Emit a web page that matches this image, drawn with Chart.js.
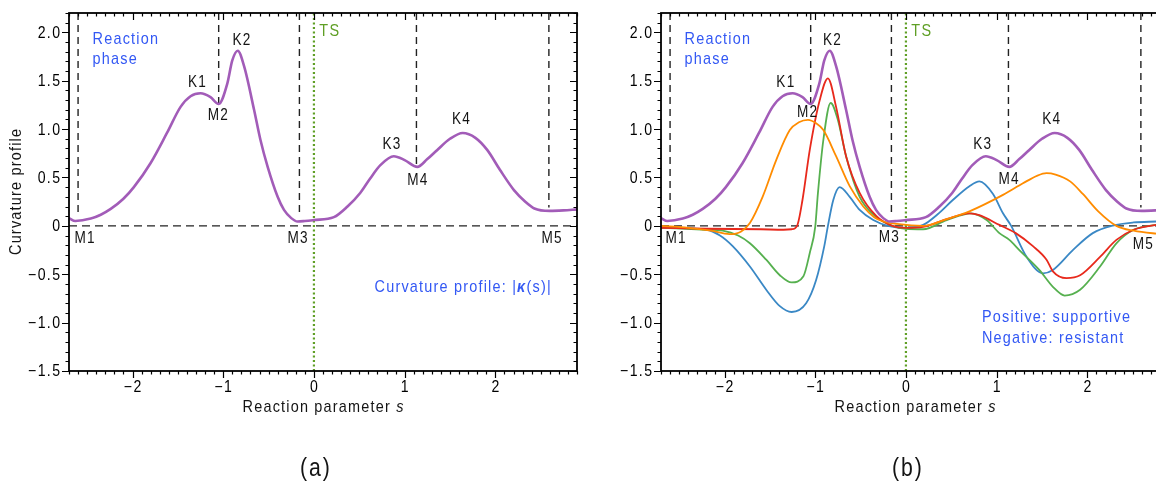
<!DOCTYPE html>
<html>
<head>
<meta charset="utf-8">
<script src="https://cdn.jsdelivr.net/npm/chart.js@4.4.1/dist/chart.umd.min.js"></script>
<style>
html,body{margin:0;padding:0;background:#fff;overflow:hidden;width:1156px;height:483px;}
#wrap{position:relative;width:1156px;height:483px;overflow:hidden;background:#fff;}
#c1{position:absolute;left:0;top:0;}
#c2{position:absolute;left:600px;top:0;}
</style>
</head>
<body>
<div id="wrap">
<canvas id="c1" width="600" height="483"></canvas>
<canvas id="c2" width="580" height="483"></canvas>
</div>
<script>
// ---------------- data ----------------
const S_MIN = -2.7, S_MAX = 2.9;
const Y_MIN = -1.5, Y_MAX = 2.2;
const xTickValues = [-2, -1, 0, 1, 2];
const yTickValues = [-1.5, -1, -0.5, 0, 0.5, 1, 1.5, 2];

// curvature profile |kappa(s)| (purple)
const kappaS = [-2.7,-2.63,-2.46,-2.35,-2.24,-2.1,-1.985,-1.8,-1.62,-1.47,-1.36,-1.25,-1.14,-1.05,-0.955,-0.9,-0.84,-0.77,-0.66,-0.59,-0.51,-0.4,-0.33,-0.25,-0.18,-0.1,0,0.22,0.37,0.51,0.62,0.735,0.88,1.0,1.14,1.25,1.36,1.5,1.64,1.78,1.91,2.05,2.205,2.33,2.43,2.6,2.75,2.9];
const kappaV = [0.08,0.05,0.075,0.115,0.175,0.28,0.4,0.65,0.96,1.23,1.34,1.37,1.33,1.26,1.47,1.71,1.81,1.65,1.2,0.89,0.61,0.3,0.165,0.08,0.045,0.05,0.06,0.09,0.2,0.34,0.49,0.63,0.72,0.68,0.61,0.69,0.785,0.9,0.96,0.91,0.785,0.58,0.37,0.25,0.18,0.155,0.16,0.17];

// component contributions (panel b)
const orangeS = [-2.7,-2.4,-2.15,-1.945,-1.82,-1.72,-1.58,-1.43,-1.28,-1.18,-1.08,-0.99,-0.91,-0.77,-0.62,-0.47,-0.35,-0.25,-0.1,0.19,0.45,0.7,1.07,1.29,1.45,1.55,1.65,1.81,1.95,2.12,2.32,2.51,2.76,2.9];
const orangeV = [0.0,-0.02,-0.05,-0.085,-0.06,0.03,0.3,0.68,0.99,1.07,1.095,1.06,0.99,0.72,0.41,0.2,0.09,0.045,0.02,0.0,0.07,0.15,0.32,0.44,0.52,0.545,0.53,0.46,0.33,0.15,0.0,-0.05,-0.08,-0.09];

const redS = [-2.7,-2.2,-1.6,-1.35,-1.26,-1.2,-1.14,-1.06,-0.95,-0.86,-0.77,-0.66,-0.51,-0.325,-0.15,0,0.19,0.45,0.7,0.81,1.03,1.21,1.4,1.55,1.62,1.77,1.92,2.14,2.32,2.51,2.76,2.9];
const redV = [-0.02,-0.03,-0.035,-0.04,-0.035,0.0,0.27,0.785,1.3,1.525,1.23,0.72,0.34,0.1,0.0,-0.02,-0.01,0.07,0.13,0.11,0.01,-0.075,-0.21,-0.35,-0.47,-0.54,-0.51,-0.32,-0.145,-0.04,0.01,0.02];

const greenS = [-2.7,-2.2,-2.02,-1.85,-1.72,-1.54,-1.39,-1.26,-1.13,-1.06,-1.0,-0.97,-0.91,-0.83,-0.75,-0.66,-0.51,-0.325,-0.15,0,0.19,0.45,0.72,0.89,1.03,1.14,1.25,1.47,1.62,1.75,1.92,2.14,2.32,2.51,2.76,2.9];
const greenV = [-0.02,-0.04,-0.05,-0.1,-0.18,-0.35,-0.51,-0.585,-0.52,-0.28,-0.01,0.34,0.89,1.27,1.095,0.72,0.3,0.09,0.0,-0.03,-0.035,0.06,0.13,0.06,-0.075,-0.145,-0.25,-0.455,-0.63,-0.72,-0.66,-0.42,-0.18,-0.04,0.01,0.02];

const blueS = [-2.7,-2.2,-2.05,-1.91,-1.72,-1.54,-1.39,-1.26,-1.1,-0.99,-0.9,-0.86,-0.8,-0.73,-0.62,-0.51,-0.36,-0.2,0,0.19,0.35,0.52,0.7,0.81,0.96,1.07,1.16,1.33,1.51,1.62,1.84,2.06,2.28,2.51,2.76,2.9];
const blueV = [-0.02,-0.04,-0.1,-0.21,-0.42,-0.66,-0.83,-0.89,-0.8,-0.56,-0.21,0.0,0.27,0.4,0.3,0.165,0.06,0.0,-0.02,0.01,0.12,0.27,0.41,0.46,0.33,0.13,0.0,-0.32,-0.49,-0.455,-0.25,-0.075,0.003,0.035,0.045,0.05];

// stationary points
const markerS = [-2.6, -1.05, -0.16, 1.13, 2.59];
const markerLineEnd = [0.1, 1.27, 0.12, 0.62, 0.19];
const tsS = 0;

// point labels (panel a / panel b)
const labelNames = ['K1','K2','M2','K3','M4','K4','M1','M3','M5'];
const labelSA = [-1.29,-0.8,-1.06,0.855,1.14,1.62,-2.53,-0.18,2.62];
const labelVA = [1.48,1.91,1.14,0.84,0.465,1.1,-0.13,-0.13,-0.13];
const labelSB = [-1.33,-0.816,-1.09,0.84,1.13,1.6,-2.54,-0.19,2.61];
const labelVB = [1.48,1.91,1.17,0.84,0.475,1.1,-0.135,-0.125,-0.19];

// ---------------- style ----------------
const FONT = "'Liberation Sans', Arial, sans-serif";
const SX = 0.85;      // horizontal condensing of all text
const SP = 1.2;       // tracking in px
const BLUE_TXT = '#3358f4';
const TS_GREEN = '#5f9f25';
const PURPLE = '#a25cb8';
const TXT = '#141414';

function pts(sArr, vArr) { return sArr.map((s, i) => ({ x: s, y: vArr[i] })); }
function fmtX(v) { return String(v).replace('-', '\u2212'); }
function fmtY(v) { return v === 0 ? '0' : v.toFixed(1).replace('-', '\u2212'); }

// rich condensed text: parts = [{t, style}], style like 'italic bold'
function drawRich(ctx, parts, x, y, align, size, color, sx, sp) {
  sx = sx || SX; sp = (sp === undefined) ? SP : sp;
  ctx.save();
  ctx.fillStyle = color;
  ctx.textBaseline = 'middle';
  ctx.textAlign = 'left';
  ctx.letterSpacing = (sp / sx) + 'px';
  let total = 0;
  parts.forEach(p => {
    ctx.font = (p.style ? p.style + ' ' : '') + size + 'px ' + FONT;
    p.w = ctx.measureText(p.t).width;
    total += p.w;
  });
  total -= sp / sx; // trailing tracking
  let start = align === 'right' ? -total : (align === 'center' ? -total / 2 : 0);
  ctx.translate(x, y);
  ctx.scale(sx, 1);
  let cx = start;
  parts.forEach(p => {
    ctx.font = (p.style ? p.style + ' ' : '') + size + 'px ' + FONT;
    ctx.fillText(p.t, cx, 0);
    cx += p.w;
  });
  ctx.restore();
  return total * sx;
}
function drawTxt(ctx, t, x, y, align, size, color, sx, sp) {
  return drawRich(ctx, [{ t: t }], x, y, align, size, color, sx, sp);
}
function textWidth(ctx, t, size) {
  ctx.save();
  ctx.letterSpacing = (SP / SX) + 'px';
  ctx.font = size + 'px ' + FONT;
  const w = (ctx.measureText(t).width - SP / SX) * SX;
  ctx.restore();
  return w;
}

function refDatasets() {
  const ds = [];
  ds.push({ data: [{ x: S_MIN, y: 0 }, { x: S_MAX, y: 0 }], borderColor: '#222', borderWidth: 1.4, borderDash: [8, 5], pointRadius: 0, order: 20 });
  markerS.forEach((s, i) => {
    ds.push({ data: [{ x: s, y: Y_MAX }, { x: s, y: markerLineEnd[i] }], borderColor: '#222', borderWidth: 1.4, borderDash: [7, 5], pointRadius: 0, order: 20 });
  });
  ds.push({ data: [{ x: tsS, y: Y_MIN }, { x: tsS, y: Y_MAX }], borderColor: TS_GREEN, borderWidth: 2.2, borderDash: [2, 2.5], pointRadius: 0, order: 19 });
  return ds;
}

function curve(sArr, vArr, color, width, order) {
  return { data: pts(sArr, vArr), borderColor: color, borderWidth: width, pointRadius: 0, cubicInterpolationMode: 'monotone', order: order, fill: false };
}

const framePlugin = {
  id: 'frameTicks',
  afterDatasetsDraw(chart) {
    const { ctx, chartArea: a, scales } = chart;
    const xs = scales.x, ys = scales.y;
    ctx.save();
    ctx.strokeStyle = '#000';
    ctx.lineWidth = 1.2;
    ctx.beginPath();
    for (let i = Math.ceil(S_MIN * 10); i <= Math.floor(S_MAX * 10); i++) {
      const px = Math.round(xs.getPixelForValue(i / 10)) + 0.5;
      const len = (i % 10 === 0) ? 7 : 3.5;
      ctx.moveTo(px, a.bottom); ctx.lineTo(px, a.bottom + len);
      ctx.moveTo(px, a.top); ctx.lineTo(px, a.top + len);
    }
    for (let i = Math.ceil(Y_MIN * 10); i <= Math.floor(Y_MAX * 10); i++) {
      const py = Math.round(ys.getPixelForValue(i / 10)) + 0.5;
      const len = (i % 5 === 0) ? 7 : 3.5;
      ctx.moveTo(a.left - len, py); ctx.lineTo(a.left, py);
      ctx.moveTo(a.right - len, py); ctx.lineTo(a.right, py);
    }
    ctx.stroke();
    ctx.lineWidth = 1.8;
    ctx.strokeRect(a.left, a.top, a.right - a.left, a.bottom - a.top);
    ctx.restore();
  }
};

function textPlugin(panel) {
  return {
    id: 'texts' + panel,
    afterDraw(chart) {
      const { ctx, chartArea: a, scales } = chart;
      const X = v => scales.x.getPixelForValue(v);
      const Y = v => scales.y.getPixelForValue(v);
      // tick labels
      xTickValues.forEach(v => drawTxt(ctx, fmtX(v), X(v), a.bottom + 17, 'center', 16, '#000', 0.88, 1.4));
      yTickValues.forEach(v => drawTxt(ctx, fmtY(v), a.left - 9, Y(v) + 1, 'right', 16, '#000', 0.88, 1.4));
      // point labels
      const ls = panel === 'a' ? labelSA : labelSB;
      const lv = panel === 'a' ? labelVA : labelVB;
      labelNames.forEach((n, i) => drawTxt(ctx, n, X(ls[i]), Y(lv[i]), 'center', 16, TXT));
      // TS
      drawTxt(ctx, 'TS', X(0.06), Y(2.01), 'left', 17, TS_GREEN);
      // Reaction phase
      drawTxt(ctx, 'Reaction', X(-2.44), Y(1.93), 'left', 17, BLUE_TXT);
      drawTxt(ctx, 'phase', X(-2.44), Y(1.72), 'left', 17, BLUE_TXT);
      if (panel === 'a') {
        drawRich(ctx, [
          { t: 'Curvature profile: |' },
          { t: '\u03BA', style: 'italic bold' },
          { t: '(s)|' }
        ], X(2.61), Y(-0.63), 'right', 17, BLUE_TXT);
      } else {
        const w = textWidth(ctx, 'Positive: supportive', 17);
        const left = X(2.47) - w;
        drawTxt(ctx, 'Positive: supportive', left, Y(-0.95), 'left', 17, BLUE_TXT);
        drawTxt(ctx, 'Negative: resistant', left, Y(-1.165), 'left', 17, BLUE_TXT);
      }
      // x axis title, centred on the full (uncropped) axis
      drawRich(ctx, [
        { t: 'Reaction parameter ' },
        { t: 's', style: 'italic' }
      ], (X(S_MIN) + X(S_MAX)) / 2, 407, 'center', 17, TXT);
      // caption
      drawTxt(ctx, panel === 'a' ? '(a)' : '(b)', X(0) + 1, 469, 'center', 25, TXT, 0.85, 2);
      // y title
      if (panel === 'a') {
        ctx.save();
        ctx.translate(16, (a.top + a.bottom) / 2);
        ctx.rotate(-Math.PI / 2);
        drawTxt(ctx, 'Curvature profile', 0, 0, 'center', 17, TXT);
        ctx.restore();
      }
    }
  };
}

function makeOptions(yWidth, padRight) {
  return {
    responsive: false,
    animation: false,
    events: [],
    layout: { padding: { top: 13, left: 0, right: padRight, bottom: 0 } },
    plugins: { legend: { display: false }, tooltip: { enabled: false }, title: { display: false } },
    scales: {
      x: {
        type: 'linear', min: S_MIN, max: S_MAX,
        afterBuildTicks: s => { s.ticks = xTickValues.map(v => ({ value: v })); },
        afterFit: s => { s.height = 112; },
        grid: { display: false, drawTicks: false },
        border: { display: false },
        ticks: { display: false }
      },
      y: {
        type: 'linear', min: Y_MIN, max: Y_MAX,
        afterBuildTicks: s => { s.ticks = yTickValues.map(v => ({ value: v })); },
        afterFit: s => { s.width = yWidth; },
        grid: { display: false, drawTicks: false },
        border: { display: false },
        ticks: { display: false }
      }
    }
  };
}

// panel (a)
new Chart(document.getElementById('c1'), {
  type: 'line',
  data: { datasets: [curve(kappaS, kappaV, PURPLE, 2.6, 1), ...refDatasets()] },
  options: makeOptions(69, 23),
  plugins: [framePlugin, textPlugin('a')]
});

// panel (b)
new Chart(document.getElementById('c2'), {
  type: 'line',
  data: {
    datasets: [
      curve(kappaS, kappaV, PURPLE, 2.6, 1),
      curve(redS, redV, '#e8291c', 1.8, 3),
      curve(greenS, greenV, '#56b04f', 1.8, 4),
      curve(blueS, blueV, '#3a88c5', 1.8, 5),
      curve(orangeS, orangeV, '#ff8c00', 1.8, 2),
      ...refDatasets()
    ]
  },
  options: makeOptions(61, 11),
  plugins: [framePlugin, textPlugin('b')]
});
</script>
</body>
</html>
